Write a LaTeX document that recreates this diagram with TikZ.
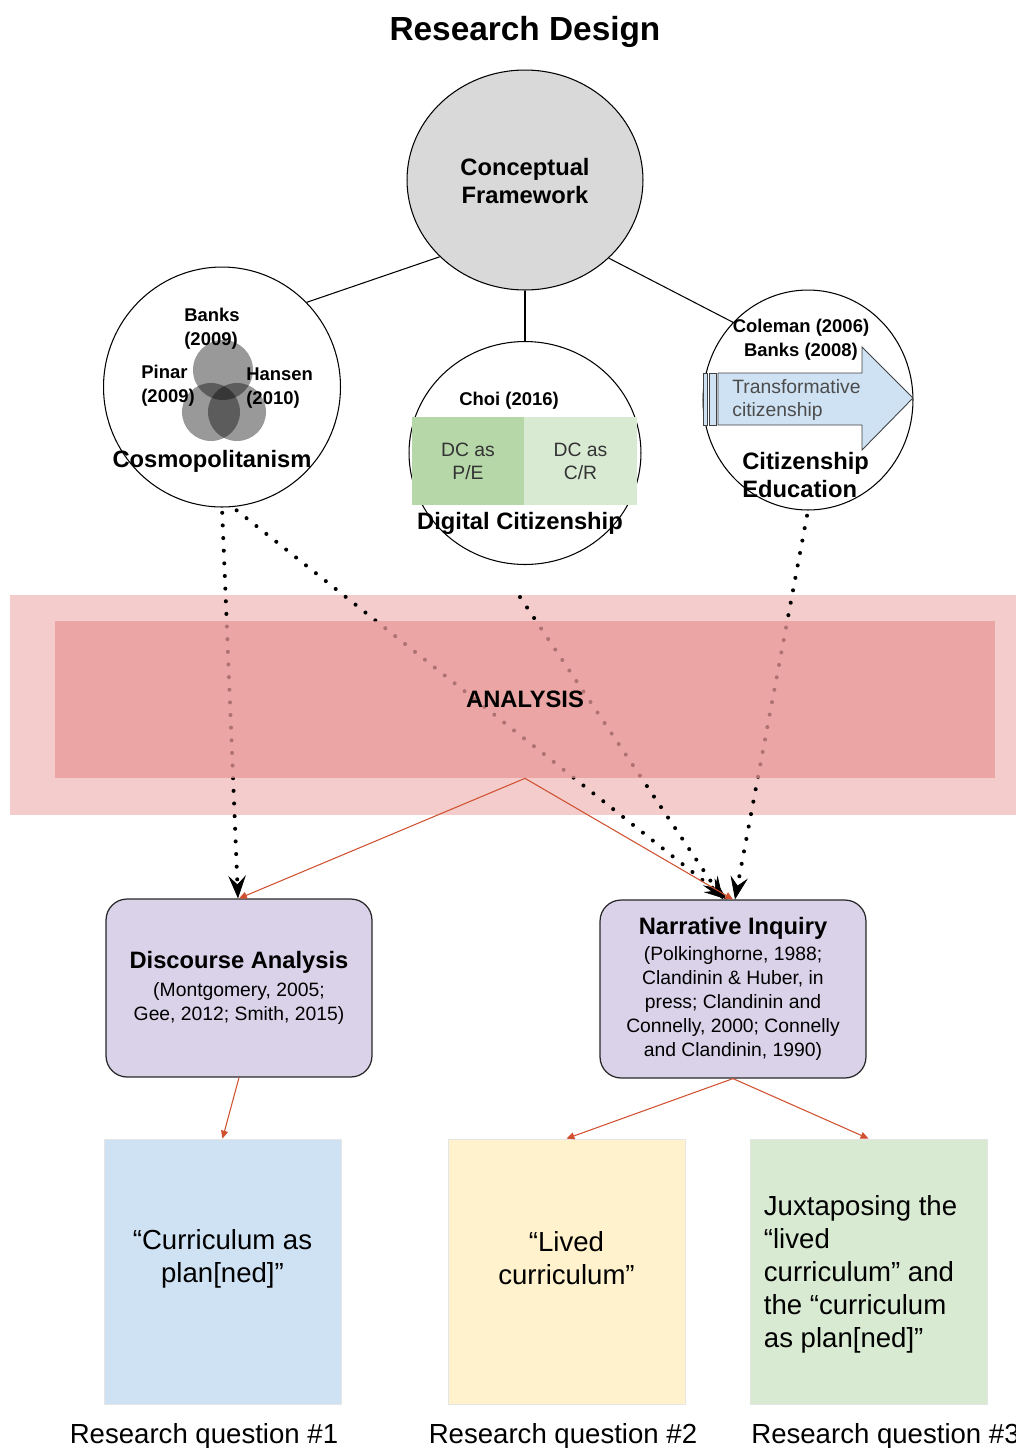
\documentclass[tikz,border=0pt]{standalone}
\usepackage{fontspec}
\setmainfont{Liberation Sans}
\usepackage{xcolor}
\usetikzlibrary{arrows.meta,shapes.geometric}

\definecolor{cfgray}{HTML}{D9D9D9}
\definecolor{dcdark}{HTML}{B6D7A8}
\definecolor{dclight}{HTML}{D9EAD3}
\definecolor{tcblue}{HTML}{CFE2F3}
\definecolor{bandlight}{HTML}{F4CCCC}
\definecolor{bandmid}{HTML}{EA9999}
\definecolor{methodpurple}{HTML}{D9D2E9}
\definecolor{rqyellow}{HTML}{FFF2CC}
\definecolor{rqgreen}{HTML}{D9EAD3}
\definecolor{arrowred}{HTML}{D0502F}
\definecolor{textgray}{HTML}{333333}

\tikzset{
  circ/.style={draw, ellipse, inner sep=0pt, line width=0.6pt},
  head/.style={font=\bfseries\fontsize{13.5}{16}\selectfont, align=center, inner sep=0pt},
  cite/.style={font=\bfseries\fontsize{10.5}{13.6}\selectfont, align=left, inner sep=0pt},
  small/.style={font=\fontsize{11}{13}\selectfont, text=textgray, align=center, inner sep=0pt},
  method/.style={draw=black!85, fill=methodpurple, rounded corners=12pt, line width=0.7pt,
    minimum width=5.32cm, minimum height=3.56cm, align=center, font=\fontsize{11}{13.6}\selectfont},
  rq/.style={draw=black!10, line width=0.5pt, minimum width=4.74cm, minimum height=5.3cm},
  rqtext/.style={font=\fontsize{15.7}{18.7}\selectfont, inner sep=0pt},
  dots/.style={line width=2.3pt, dash pattern=on 0pt off 7.2pt, line cap=round,
    -{Stealth[length=13pt,width=10pt,inset=5pt,line width=0.4pt]}},
  redarrow/.style={draw=arrowred, line width=0.6pt, -{Triangle[length=4.5pt,width=4pt]}}
}

\begin{document}
\begin{tikzpicture}[x=0.02cm, y=-0.02cm]
\useasboundingbox (0,0) rectangle (1016,1448);

% Title
\node[font=\bfseries\fontsize{19}{22}\selectfont, inner sep=0pt] (title) at (525,32) {Research Design};

% Conceptual framework and the three circles
\node[circ, fill=cfgray, minimum width=4.72cm, minimum height=4.4cm] (cf) at (525,180) {};
\node[head] at (525,181) {Conceptual\\Framework};
\node[circ, minimum width=4.74cm, minimum height=4.8cm] (cosmo) at (222,387) {};
\node[circ, minimum width=4.64cm, minimum height=4.46cm] (dc) at (525,453) {};
\node[circ, minimum width=4.2cm, minimum height=4.4cm] (ce) at (808,400) {};

\draw[line width=0.6pt] (cf.222) -- (cosmo.45);
\draw[line width=0.6pt] (cf.south) -- (dc.north);
\draw[line width=0.6pt] (cf.317) -- (ce.134);

% Cosmopolitanism: venn
\fill[black, fill opacity=0.4] (223,370) circle (30);
\fill[black, fill opacity=0.4] (211,412) circle (29);
\fill[black, fill opacity=0.4] (237,412) circle (29);
\node[cite, anchor=west] (banks) at (184,329) {Banks\\(2009)};
\node[cite, anchor=west] (pinar) at (141,386) {Pinar\\(2009)};
\node[cite, anchor=west] (hansen) at (246,388) {Hansen\\(2010)};
\node[head] (cosmolbl) at (212,461) {Cosmopolitanism};

% Digital citizenship
\node[cite] (choi) at (509,401) {Choi (2016)};
\node[small, fill=dcdark, minimum width=2.24cm, minimum height=1.76cm] (pe) at (468,461) {DC as\\P/E};
\node[small, fill=dclight, minimum width=2.26cm, minimum height=1.76cm] (cr) at (580.5,461) {DC as\\C/R};
\node[head] (dclbl) at (520,523) {Digital Citizenship};

% Citizenship education
\node[cite, align=center] (coleman) at (801,340) {Coleman (2006)\\Banks (2008)};
\draw[fill=tcblue, draw=black!75, line width=0.5pt]
  (718,373) -- (862,373) -- (862,347) -- (913,398) -- (862,450) -- (862,425) -- (718,425) -- cycle;
\draw[fill=tcblue, draw=black!75, line width=0.5pt] (703,373) rectangle (707,425);
\draw[fill=tcblue, draw=black!75, line width=0.5pt] (709,373) rectangle (716,425);
\node[small, align=left, anchor=west, text=black!70] (transf) at (732,400) {Transformative\\citizenship};
\node[head, align=left, anchor=west, font=\bfseries\fontsize{13.5}{15.9}\selectfont] (celbl) at (742,475) {Citizenship\\Education};

% Analysis band
\node[fill=bandlight, minimum width=20.12cm, minimum height=4.4cm, inner sep=0pt] (band) at (513,705) {};
\coordinate (dcout) at (520,597);

% Methods
\node[method] (da) at (239,988) {{\bfseries\fontsize{13.5}{16}\selectfont Discourse Analysis}\\[2pt]
  (Montgomery, 2005;\\Gee, 2012; Smith, 2015)};
\node[method] (ni) at (733,989) {{\bfseries\fontsize{13.5}{16}\selectfont Narrative Inquiry}\\[1pt]
  (Polkinghorne, 1988;\\Clandinin \& Huber, in\\press; Clandinin and\\Connelly, 2000; Connelly\\and Clandinin, 1990)};

\draw[dots, shorten <=3pt] (cosmo.south) -- ([xshift=-0.02cm]da.north);
\draw[dots, shorten <=3pt] (cosmo.-85) -- ([xshift=-0.12cm]ni.north);
\draw[dots] (dcout) -- ([xshift=-0.2cm]ni.north);
\draw[dots, shorten <=3pt] (ce.south) -- ([xshift=0.04cm]ni.north);

\node[fill=bandmid, fill opacity=0.75, text opacity=1, minimum width=18.8cm, minimum height=3.14cm,
  font=\bfseries\fontsize{13.5}{16}\selectfont] (ana) at (525,699.5) {ANALYSIS};

\draw[redarrow] (ana.south) -- (da.north);
\draw[redarrow] (ana.south) -- (ni.north);

% Research questions
\node[rq, fill=tcblue] (rq1) at (222.5,1271.5) {};
\node[rq, fill=rqyellow] (rq2) at (566.5,1271.5) {};
\node[rq, fill=rqgreen] (rq3) at (868.5,1271.5) {};

\node[rqtext, align=center] at ([yshift=0.26cm]rq1.center) {“Curriculum as\\plan[ned]”};
\node[rqtext, align=center] at ([yshift=0.26cm]rq2.center) {“Lived\\curriculum”};
\node[rqtext, align=left, anchor=west] at ([xshift=0.28cm,yshift=-0.06cm]rq3.west)
  {Juxtaposing the\\“lived\\curriculum” and\\the “curriculum\\as plan[ned]”};

\draw[redarrow] (da.south) -- (rq1.north);
\draw[redarrow] (ni.south) -- (rq2.north);
\draw[redarrow] (ni.south) -- (rq3.north);

\node[rqtext] (q1) at (204,1436) {Research question \#1};
\node[rqtext] (q2) at (563,1436) {Research question \#2};
\node[rqtext, anchor=west] (q3) at (751,1436) {Research question \#3};

\end{tikzpicture}
\end{document}
